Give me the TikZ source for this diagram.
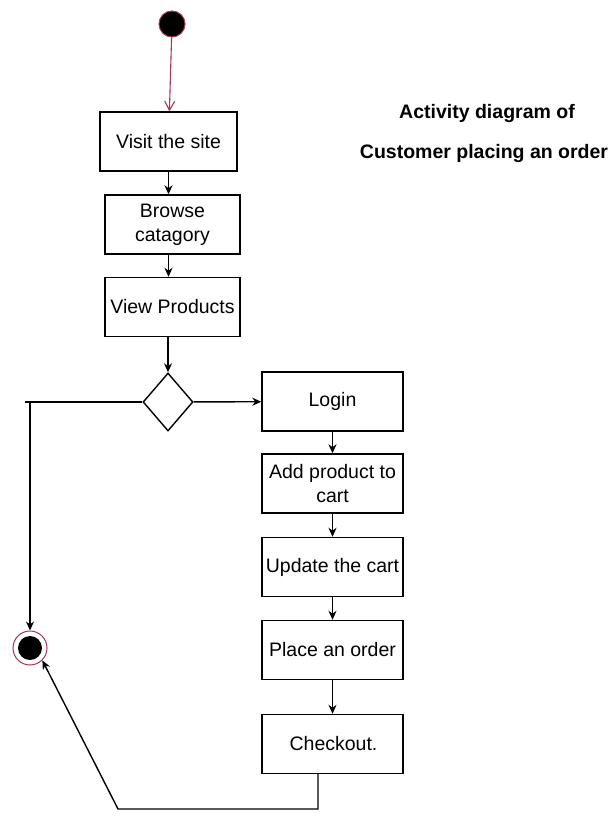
\documentclass[tikz,border=0pt]{standalone}
\usepackage{fontspec}
\setmainfont{Liberation Sans}
\usetikzlibrary{arrows.meta,shapes.geometric,calc}
\definecolor{startred}{HTML}{A8344F}
\begin{document}
\begin{tikzpicture}[x=1pt,y=-1pt,
  act/.style={draw,line width=1.4pt,minimum width=137pt,minimum height=59pt,
    inner sep=0pt,align=center,font=\fontsize{19.5}{24}\selectfont},
  flow/.style={line width=1.4pt,-{Stealth[length=9pt,width=8pt]}},
  plain/.style={line width=1.4pt}]
\useasboundingbox (0,0) rectangle (615,818);

% initial node
\node (start) [circle,fill=black,draw=startred,line width=1pt,minimum size=26pt,inner sep=0pt] at (172,24) {};

% left column
\node (visit)  [act] at (168.5,141.5) {Visit the site};
\node (browse) [act,minimum width=135pt] at (172.5,224.5) {Browse\\catagory};
\node (view)   [act,minimum width=135pt] at (172.5,307) {View Products};
\node (dec) [diamond,draw,line width=1.4pt,minimum width=50pt,minimum height=58pt,inner sep=0pt] at (168,402) {};

% right column
\node (login)  [act,minimum width=141pt] at (332.5,401.5) {Login};
\node (add)    [act,minimum width=141pt] at (332.5,483.5) {Add product to\\cart};
\node (update) [act,minimum width=141pt] at (332.5,567) {Update the cart};
\node (place)  [act,minimum width=141pt] at (332.5,650) {Place an order};
\node (check)  [act,minimum width=141pt] at (332.5,744) {\hspace*{2pt}Checkout.};

% final node
\node (final) [circle,draw=startred,line width=1pt,minimum size=34pt,inner sep=0pt] at (30,648) {};
\fill[black] (final.center) circle (12pt);

% title
\node (title1) [font=\bfseries\fontsize{19.5}{24}\selectfont] at (487,114) {Activity diagram of};
\node (title2) [font=\bfseries\fontsize{19.5}{24}\selectfont] at (484,154) {Customer placing an order};

% connectors
\draw[line width=1.1pt,draw=startred,-{Straight Barb[length=9pt,width=10pt]}] (start) -- (visit);
\draw[flow] (visit) -- (browse.north -| visit.south);
\draw[flow] (browse.south -| visit.south) -- (view.north -| visit.south);
\draw[flow] (view.south -| dec.north) -- (dec);
\draw[flow] (dec) -- (login);
\draw[flow] (login) -- (add);
\draw[flow] (add) -- (update);
\draw[flow] (update) -- (place);
\draw[flow] (place) -- (check);

\coordinate (lcorner) at (30,402);
\coordinate (lend) at (25,402);
\draw[plain] (dec.west) -- (lend);
\draw[flow] (lcorner) -- (final);

\coordinate (cdown) at (318,809);
\coordinate (cleft) at (118,809);
\draw[flow] (check.south -| cdown) -- (cdown) -- (cleft) -- (final.south east);
\end{tikzpicture}
\end{document}
